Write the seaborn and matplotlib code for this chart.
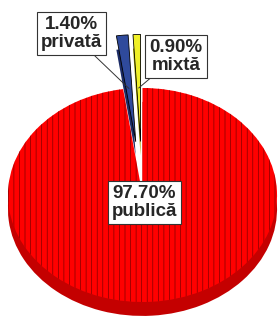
import numpy as np
import matplotlib
matplotlib.use("Agg")
import matplotlib.pyplot as plt
import seaborn as sns

# -----------------------------
# Datos
# -----------------------------
categories = ["publică", "privată", "mixtă"]
shares = [97.70, 1.40, 0.90]
face_colors = ["#ff0000", "#2f4a9c", "#f0f028"]
side_colors = ["#c40000", "#1c2c66", "#a0a000"]
explode = [0.0, 0.5, 0.5]

# label box centres (data units) and anchor radius on the slice
label_pos = [(0.015, -0.07), (-0.528, 1.509), (0.249, 1.294)]
anchor_r = [0.17, 0.5, 0.5]

sns.set_theme(style="white")
plt.rcParams["font.family"] = ["Liberation Sans", "DejaVu Sans"]
plt.rcParams["hatch.linewidth"] = 0.5

fig = plt.figure(figsize=(2.8, 3.2), dpi=100)
ax = fig.add_axes([0, 0, 1, 1])

# -----------------------------
# Lateral (profundidad) + cara superior
# -----------------------------
depth = 0.13
ax.pie(shares, colors=side_colors, explode=explode, startangle=90,
       counterclock=False, center=(0, -depth), frame=True,
       wedgeprops=dict(linewidth=0))
wedges, _ = ax.pie(shares, colors=face_colors, explode=explode, startangle=90,
                   counterclock=False, frame=True,
                   wedgeprops=dict(edgecolor="black", linewidth=0.6))
wedges[0].set_edgecolor("#800000")
wedges[0].set_linewidth(0)
wedges[0].set_hatch("|||")

ax.set_aspect("auto")
ax.set_xlim(-1.059, 1.022)
ax.set_ylim(-1.168, 1.822)
ax.axis("off")

# -----------------------------
# Etiquetas
# -----------------------------
for w, cat, val, pos, r in zip(wedges, categories, shares, label_pos, anchor_r):
    mid = np.deg2rad((w.theta1 + w.theta2) / 2)
    cx, cy = w.center
    xy = (cx + r * np.cos(mid), cy + r * np.sin(mid))
    ax.annotate(f"{val:.2f}%\n{cat}", xy=xy, xytext=pos,
                ha="center", va="center", fontsize=13.5, fontweight="bold",
                linespacing=1.05,
                bbox=dict(boxstyle="square,pad=0.22", fc="white", ec="#333333", lw=0.8),
                arrowprops=dict(arrowstyle="-", color="#333333", lw=0.7,
                                shrinkA=0, shrinkB=0))

fig.savefig("out.png", dpi=100)
plt.close(fig)
